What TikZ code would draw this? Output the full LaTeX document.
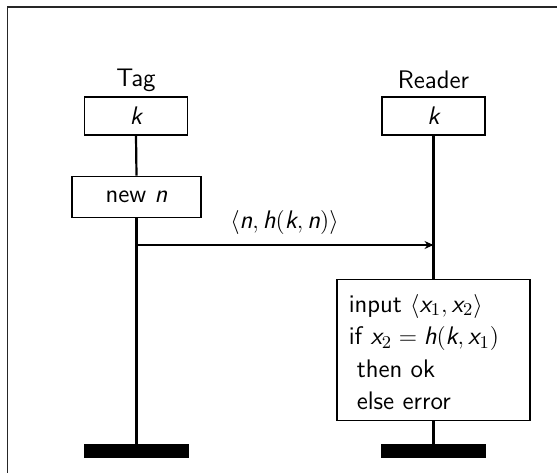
\documentclass[tikz,border=0pt]{standalone}
\usepackage{fontspec}
\usetikzlibrary{arrows.meta}
\newcommand\vv[1]{\mbox{\itshape #1}}
\tikzset{
  every node/.style={font=\sffamily\fontsize{12.7}{16.2}\selectfont},
  keybox/.style={draw, line width=0.6pt, minimum width=51.5pt, minimum height=19pt, inner sep=0pt},
  actbox/.style={draw, line width=0.6pt, minimum width=64.5pt, minimum height=20.75pt, inner sep=0pt},
  procbox/.style={draw, line width=0.6pt, minimum width=96.5pt, minimum height=70.75pt, inner sep=0pt},
  endbar/.style={fill=black, minimum width=52.5pt, minimum height=7pt, inner sep=0pt},
  lifeline/.style={line width=1.1pt},
  msg/.style={line width=0.6pt, -{Stealth[length=4.5pt,width=4pt]}},
  lbltext/.style={inner sep=0pt}
}
\begin{document}
\begin{tikzpicture}[x=0.5pt,y=-0.5pt]
\useasboundingbox (0,0) rectangle (557,472);
\begin{scope}
\clip (0,0) rectangle (557,472);
\draw[line width=0.8pt, black!85] (7.5,7) rectangle (620,520);
\end{scope}
% labels
\node[lbltext] (tagl) at (136,80) {Tag};
\node[lbltext] (readl) at (433.5,80) {Reader};
% key boxes
\node[keybox] (tk) at (136,116) {$\vv{k}$};
\node[keybox] (rk) at (433.5,116) {$\vv{k}$};
% new n
\node[actbox] (tn) at (136.5,197) {new $\vv{n}$};
% reader process
\node[procbox] (rp) at (433.5,350) {};
\node[anchor=west, align=left, inner sep=0pt] (rt) at ([xshift=6pt,yshift=-1pt]rp.west)
  {input $\langle \vv{x}_1, \vv{x}_2\rangle$\\
   if $\vv{x}_2 = \vv{h}(\vv{k}, \vv{x}_1)$\\
   \hspace*{4pt}then ok\\
   \hspace*{4pt}else error};
% end bars
\node[endbar] (tb) at (136.5,451) {};
\node[endbar] (rb) at (433.5,451) {};
% lifelines
\draw[lifeline] (tk.south) -- (tn.north);
\draw[lifeline] (tn.south) -- (tb.north);
\draw[lifeline] (rk.south) -- (rp.north);
\draw[lifeline] (rp.south) -- (rb.north);
% message
\coordinate (m1) at (136,245);
\coordinate (m2) at (433.5,245);
\draw[msg] (m1) -- (m2);
\node[lbltext] (ml) at (284.5,222) {$\langle \vv{n}, \vv{h}(\vv{k}, \vv{n})\rangle$};
\end{tikzpicture}
\end{document}
